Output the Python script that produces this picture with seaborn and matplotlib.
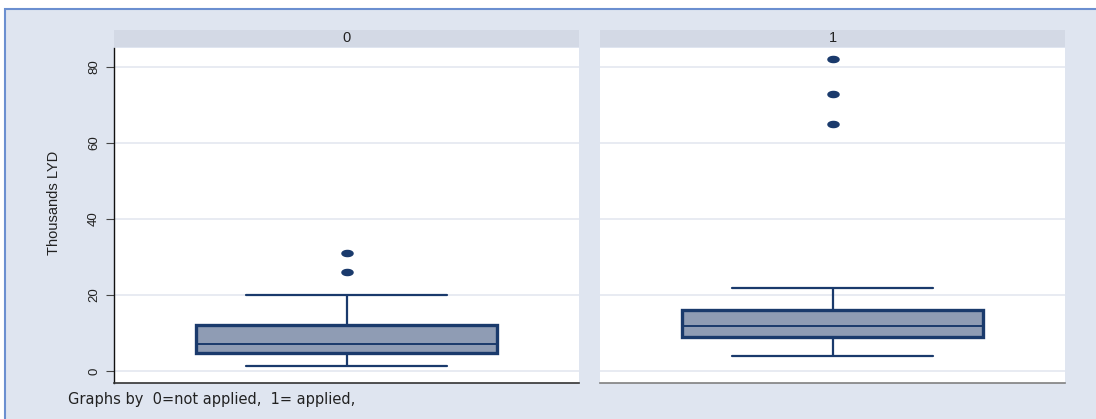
import numpy as np
import pandas as pd
import matplotlib
matplotlib.use("Agg")
import matplotlib.pyplot as plt
from matplotlib.patches import Rectangle
from matplotlib.path import Path
import seaborn as sns

# Observations (thousands LYD) for each group
not_applied = [1.3, 3.0, 4.0, 4.65, 5.5, 6.5, 7.0, 8.0, 10.0, 12.0, 20.0, 26.0, 31.1]
applied = [3.95, 6.0, 7.5, 8.5, 9.0, 10.0, 10.8, 11.3, 11.7, 13.0, 14.0, 15.0,
           16.05, 21.9, 65.1, 73.0, 82.0]
group_labels = ["0", "1"]
y_ticks = [0, 20, 40, 60, 80]

df = pd.DataFrame({
    "value": not_applied + applied,
    "group": ["0"] * len(not_applied) + ["1"] * len(applied),
})

sns.set_style("white")
plt.rcParams["font.family"] = ["Liberation Sans", "DejaVu Sans"]

W, H = 1096, 419
fig = plt.figure(figsize=(W / 100, H / 100), dpi=100)
fig.patch.set_facecolor("white")

bg = "#dfe5f0"
navy = "#1a3a6c"
box_fill = "#8f9cb4"
strip_col = "#d3d9e5"
grid_col = "#e4e8f0"

# graph region with blue frame
fig.patches.append(Rectangle((5 / W, -0.1), 1.2, (H - 9.5) / H + 0.1,
                             transform=fig.transFigure, facecolor=bg,
                             edgecolor="#6b8fd0", linewidth=1.5, zorder=-10))

# elliptical outlier marker
t = np.linspace(0, 2 * np.pi, 40)
ellipse = Path(np.column_stack([np.cos(t), 0.55 * np.sin(t)]), closed=True)

px = lambda v: v / W
py = lambda v: 1 - v / H
lefts = [114, 600]
pw = 465
top, bottom = 48, 383
ph = bottom - top

axes = []
for i, g in enumerate(group_labels):
    ax = fig.add_axes([px(lefts[i]), py(bottom), px(pw), ph / H])
    axes.append(ax)
    sub = df[df["group"] == g]
    sns.boxplot(
        data=sub, y="value", ax=ax, width=0.647, color=box_fill,
        linecolor=navy, saturation=1,
        boxprops=dict(linewidth=2.4, edgecolor=navy, facecolor=box_fill),
        medianprops=dict(linewidth=1.4, color=navy),
        whiskerprops=dict(linewidth=1.6, color=navy),
        capprops=dict(linewidth=1.6, color=navy),
        capwidths=0.432,
        flierprops=dict(marker=ellipse, markerfacecolor=navy,
                        markeredgecolor=navy, markersize=8),
    )
    ax.set_xlim(-0.5, 0.5)
    ax.set_ylim(-3.2, 85)
    ax.set_facecolor("white")
    ax.set_yticks(y_ticks)
    ax.yaxis.grid(True, color=grid_col, linewidth=1.2)
    ax.set_axisbelow(True)
    ax.set_xticks([])
    ax.set_xlabel("")
    ax.set_ylabel("")
    for s in ["top", "right"]:
        ax.spines[s].set_visible(False)
    ax.spines["bottom"].set_linewidth(1.2)

    # strip header
    ax.add_patch(Rectangle((0, (bottom - 47) / ph), 1, 17 / ph,
                           transform=ax.transAxes, facecolor=strip_col,
                           edgecolor="none", clip_on=False))
    ax.text(0.5, (bottom - 38.5) / ph, g, transform=ax.transAxes,
            ha="center", va="center", fontsize=10.5, color="#222222")

ax0, ax1 = axes
ax0.spines["bottom"].set_color("#333333")
ax1.spines["bottom"].set_color("#808080")
ax0.spines["left"].set_color("#111111")
ax0.spines["left"].set_linewidth(1.0)
ax0.tick_params(axis="y", which="major", left=True, length=6, width=0.8,
                color="#444444", pad=4, labelsize=9.5, labelcolor="#222222")
for lab in ax0.get_yticklabels():
    lab.set_rotation(90)
    lab.set_va("center")
ax0.set_ylabel("Thousands LYD", fontsize=10.5, color="#222222")
ax0.yaxis.set_label_coords((61 - 114) / pw, (bottom - 203) / ph)

ax1.spines["left"].set_visible(False)
ax1.tick_params(axis="y", left=False, labelleft=False)

fig.text(px(68), py(399), "Graphs by  0=not applied,  1= applied,",
         fontsize=10.5, family=["DejaVu Sans"], color="#222222",
         ha="left", va="center")

fig.savefig("out.png", dpi=100, facecolor=fig.get_facecolor())
